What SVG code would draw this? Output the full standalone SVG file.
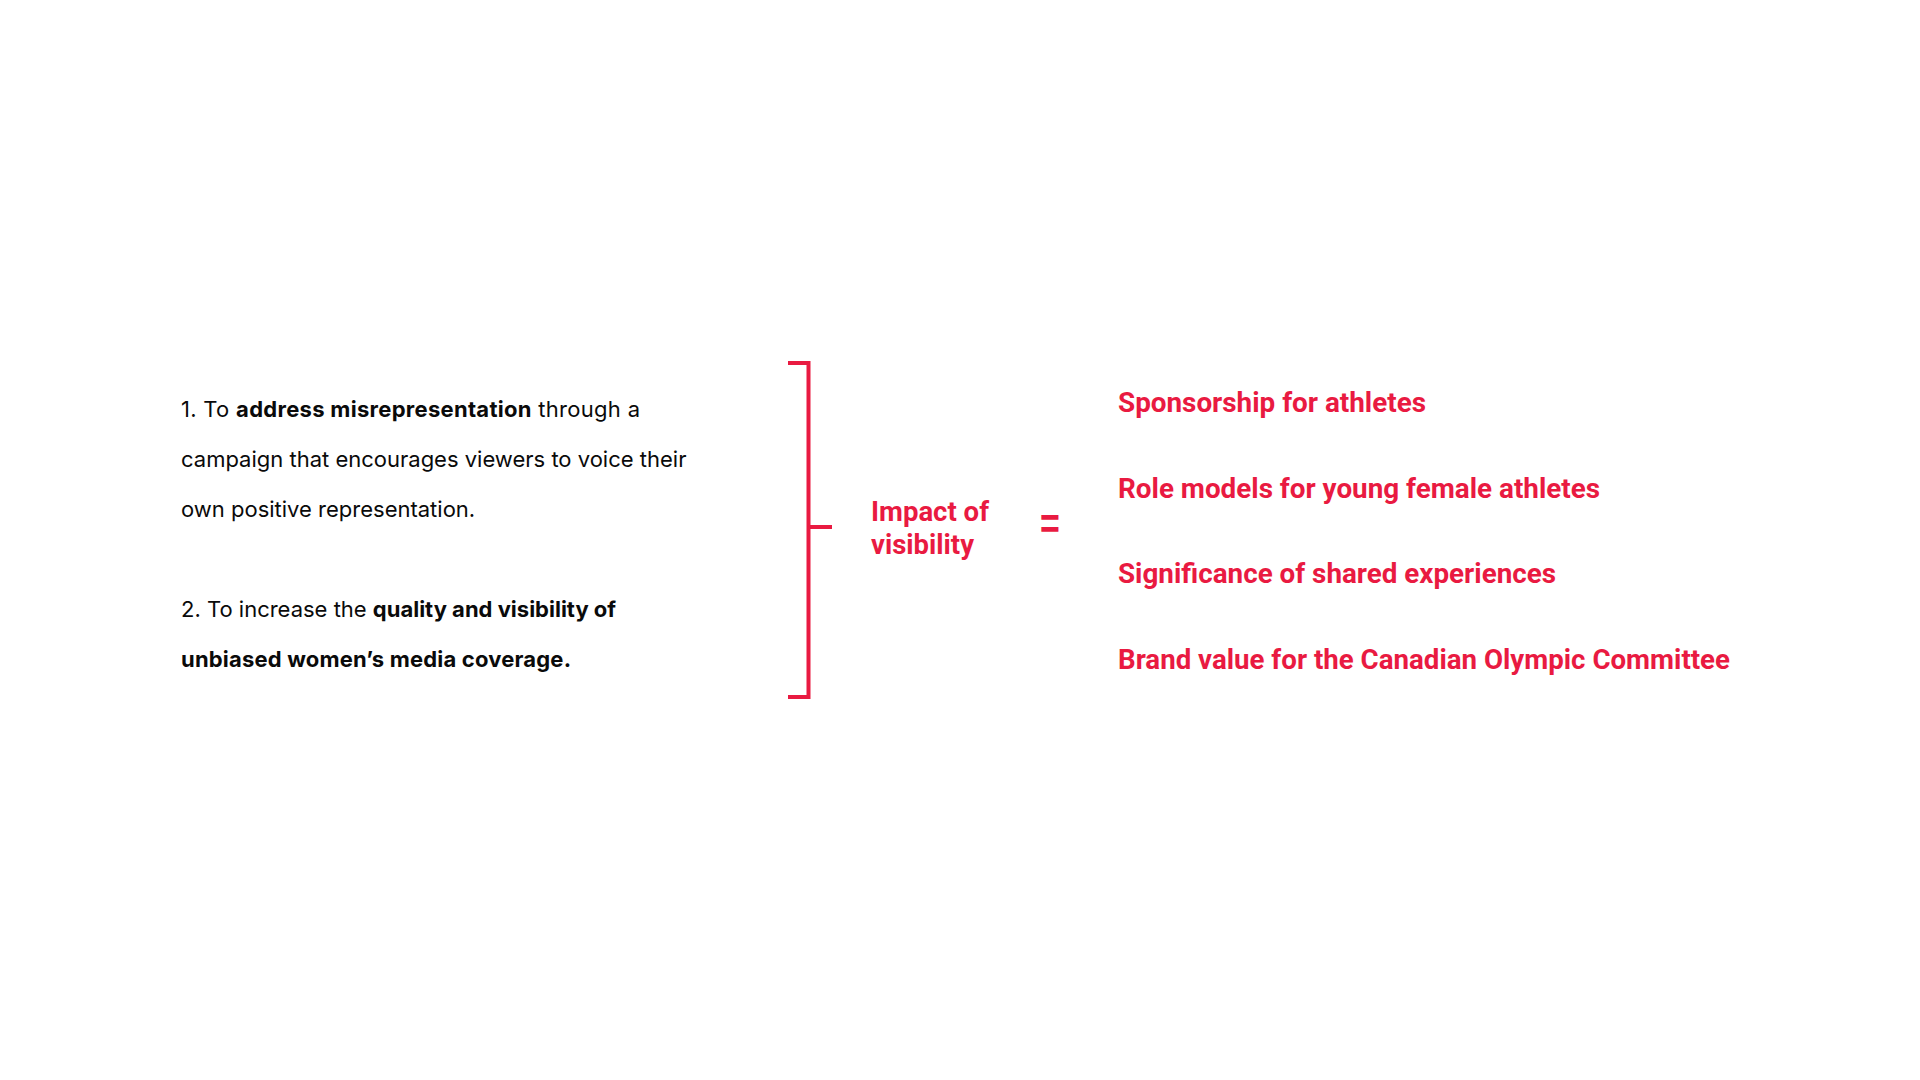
<svg xmlns="http://www.w3.org/2000/svg" width="1920" height="1080" viewBox="0 0 1920 1080">
  <style>
    .body { font-family: Inter, "Noto Sans", "Liberation Sans", sans-serif; font-size: 22px; fill: #0a0a0a; }
    .b { font-weight: 700; }
    .red { font-family: Roboto, "Liberation Sans", sans-serif; font-weight: 700; font-size: 27px; fill: #E91A41; }
    .eq { font-family: "Liberation Sans", Arial, sans-serif; font-weight: 700; font-size: 34px; fill: #E91A41; }
    .brk { stroke: #E91A41; stroke-width: 4; fill: none; stroke-linecap: butt; stroke-linejoin: miter; }
  </style>
  <rect width="1920" height="1080" fill="#ffffff"/>

  <g id="objectives">
    <text class="body" x="181" y="417" textLength="459" lengthAdjust="spacing">1. To <tspan class="b">address misrepresentation</tspan> through a</text>
    <text class="body" x="181" y="467">campaign that encourages viewers to voice their</text>
    <text class="body" x="181" y="517">own positive representation.</text>
    <text class="body" x="181" y="617">2. To increase the <tspan class="b">quality and visibility of</tspan></text>
    <text class="body b" x="181" y="667" textLength="390" lengthAdjust="spacing">unbiased women’s media coverage.</text>
  </g>

  <g id="connectors">
    <path class="brk" d="M788 363 H808.5 V697 H788"/>
    <path class="brk" d="M808.5 527 H832"/>
  </g>

  <g id="impact">
    <text class="red" x="871" y="521" textLength="118" lengthAdjust="spacingAndGlyphs">Impact of</text>
    <text class="red" x="871" y="554" textLength="103" lengthAdjust="spacingAndGlyphs">visibility</text>
  </g>

  <g id="equals">
    <text class="eq" transform="translate(1040 539) scale(1 1.32)" x="0" y="0">=</text>
  </g>

  <g id="outcomes">
    <text class="red" x="1118" y="412" textLength="308" lengthAdjust="spacingAndGlyphs">Sponsorship for athletes</text>
    <text class="red" x="1118" y="498" textLength="482" lengthAdjust="spacingAndGlyphs">Role models for young female athletes</text>
    <text class="red" x="1118" y="583" textLength="438" lengthAdjust="spacingAndGlyphs">Significance of shared experiences</text>
    <text class="red" x="1118" y="669" textLength="612" lengthAdjust="spacingAndGlyphs">Brand value for the Canadian Olympic Committee</text>
  </g>
</svg>
